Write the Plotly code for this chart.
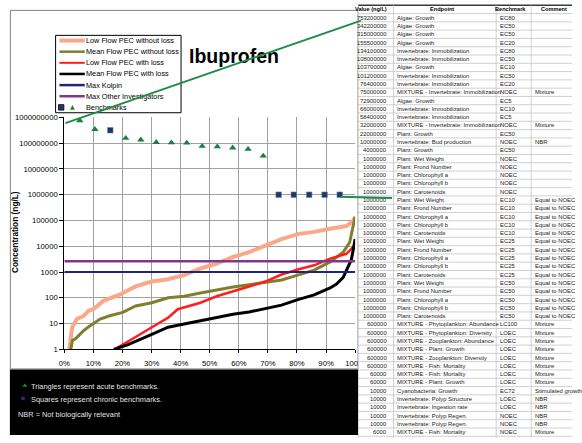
import plotly.graph_objects as go

W, H = 582, 443
FONT = "'Liberation Sans', Arial, sans-serif"

# ---------------- data ----------------
series_names = ["Low Flow PEC without loss", "Mean Flow PEC without loss",
                "Low Flow PEC with loss", "Mean Flow PEC with loss",
                "Max Kolpin", "Max Other Investigators"]
series_colors = ["#F9A98A", "#7F7F2E", "#FF1E1E", "#000000", "#23237A", "#80388C"]
series_widths = [4, 3, 2.5, 3, 2, 2.5]

low_flow_nl_x = [1.7, 2.0, 2.7, 4.3, 6.7, 8.4, 10.0, 13.4, 16.7, 19.0, 24.5, 30.1, 35.7, 41.2,
                 46.8, 52.4, 58.0, 63.5, 69.1, 74.7, 80.3, 85.9, 91.4, 97.0, 99.2, 100.0]
low_flow_nl_y = [1, 2.3, 7.2, 15, 20, 32, 36, 76, 100, 132, 275, 427, 525, 760,
                 1370, 2130, 3820, 5900, 10500, 19000, 29500, 36000, 48000, 61000, 94000, 138000]

mean_flow_nl_x = [2.2, 2.8, 3.9, 6.7, 8.9, 12.3, 15.6, 20.1, 24.5, 30.1, 35.7, 41.2, 46.8,
                  52.4, 58.0, 63.5, 69.1, 74.7, 80.3, 85.9, 91.4, 95.9, 98.1, 99.2, 100.0]
mean_flow_nl_y = [1, 2.2, 2.6, 5.4, 8.3, 15, 20, 27, 48, 64, 100, 115, 154,
                  205, 260, 318, 390, 490, 760, 1180, 2460, 5900, 14000, 45000, 138000]

low_flow_wl_x = [17.3, 20.1, 24.5, 30.1, 35.7, 39.0, 46.8, 52.4, 58.0, 63.5, 69.1, 74.7,
                 80.3, 85.9, 91.4, 97.0, 99.2, 99.8]
low_flow_wl_y = [1, 1.5, 3.0, 7.2, 17, 36, 64, 115, 178, 275, 427, 800,
                 1250, 1820, 3300, 5100, 8700, 10500]

mean_flow_wl_x = [17.0, 21.7, 27.9, 35.7, 41.2, 46.8, 52.4, 58.0, 63.5, 69.1, 74.7, 80.3,
                  85.9, 91.4, 93.6, 95.9, 97.5, 98.7, 99.4, 100.0]
mean_flow_wl_y = [1, 1.5, 3, 7.2, 9.6, 13, 17, 23, 28, 39, 52, 85,
                  130, 240, 340, 620, 1620, 3000, 7900, 19000]

kolpin_x = [0, 100]
kolpin_y = [1000, 1000]
other_x = [0, 100]
other_y = [2600, 2600]

bench_pct = [5.3, 10.5, 15.8, 21.1, 26.3, 31.6, 36.8, 42.1, 47.4, 52.6, 57.9, 63.2,
             68.4, 73.7, 78.9, 84.2, 89.5, 94.7]
bench_val = [753200000, 342200000, 315000000, 155500000, 134100000, 108000000, 103700000,
             101200000, 76400000, 72900000, 66000000, 58400000, 32000000,
             1000000, 1000000, 1000000, 1000000, 1000000]
bench_kind = ["acute", "acute", "chronic", "acute", "acute", "acute", "acute", "acute",
              "acute", "acute", "acute", "acute", "acute",
              "chronic", "chronic", "chronic", "chronic", "chronic"]

x_ticks = [0, 10, 20, 30, 40, 50, 60, 70, 80, 90, 100]

table_header = ["Value (ng/L)", "Endpoint", "Benchmark", "Comment"]
table_values = [753200000, 342200000, 315000000, 155500000, 134100000, 108000000, 103700000,
                101200000, 76400000, 75000000, 72900000, 66000000, 58400000, 32000000,
                22000000, 10000000, 4000000,
                1000000, 1000000, 1000000, 1000000, 1000000,
                1000000, 1000000, 1000000, 1000000, 1000000,
                1000000, 1000000, 1000000, 1000000, 1000000,
                1000000, 1000000, 1000000, 1000000, 1000000,
                600000, 600000, 600000, 600000, 600000, 600000,
                60000, 60000,
                10000, 10000, 10000, 10000, 10000, 6000]
table_endpoints = ["Algae: Growth", "Algae: Growth", "Algae: Growth", "Algae: Growth",
                   "Invertebrate: Immobilization", "Invertebrate: Immobilization", "Algae: Growth",
                   "Invertebrate: Immobilization", "Invertebrate: Immobilization",
                   "MIXTURE - Invertebrate: Immobilization", "Algae: Growth",
                   "Invertebrate: Immobilization", "Invertebrate: Immobilization",
                   "MIXTURE - Invertebrate: Immobilization", "Plant: Growth",
                   "Invertebrate: Bud production", "Plant: Growth",
                   "Plant: Wet Weight", "Plant: Frond Number", "Plant: Chlorophyll a",
                   "Plant: Chlorophyll b", "Plant: Carotenoids",
                   "Plant: Wet Weight", "Plant: Frond Number", "Plant: Chlorophyll a",
                   "Plant: Chlorophyll b", "Plant: Carotenoids",
                   "Plant: Wet Weight", "Plant: Frond Number", "Plant: Chlorophyll a",
                   "Plant: Chlorophyll b", "Plant: Carotenoids",
                   "Plant: Wet Weight", "Plant: Frond Number", "Plant: Chlorophyll a",
                   "Plant: Chlorophyll b", "Plant: Carotenoids",
                   "MIXTURE - Phytoplankton: Abundance", "MIXTURE - Phytoplankton: Diversity",
                   "MIXTURE - Zooplankton: Abundance", "MIXTURE - Plant: Growth",
                   "MIXTURE - Zooplankton: Diversity", "MIXTURE - Fish: Mortality",
                   "MIXTURE - Fish: Mortality", "MIXTURE - Plant: Growth",
                   "Cyanobacteria: Growth", "Invertebrate: Polyp Structure",
                   "Invertebrate: Ingestion rate", "Invertebrate: Polyp Regen.",
                   "Invertebrate: Polyp Regen.", "MIXTURE - Fish: Mortality"]
table_benchmarks = ["EC80", "EC50", "EC50", "EC20", "EC80", "EC50", "EC10", "EC50", "EC20",
                    "NOEC", "EC5", "EC10", "EC5", "NOEC", "EC50", "NOEC", "EC50",
                    "NOEC", "NOEC", "NOEC", "NOEC", "NOEC",
                    "EC10", "EC10", "EC10", "EC10", "EC10",
                    "EC25", "EC25", "EC25", "EC25", "EC25",
                    "EC50", "EC50", "EC50", "EC50", "EC50",
                    "LC100", "LOEC", "LOEC", "LOEC", "LOEC", "LOEC", "LOEC", "LOEC",
                    "EC72", "LOEC", "LOEC", "NOEC", "NOEC", "NOEC"]
table_comments = ["", "", "", "", "", "", "", "", "", "Mixture", "", "", "", "Mixture", "",
                  "NBR", "", "", "", "", "", "",
                  "Equal to NOEC", "Equal to NOEC", "Equal to NOEC", "Equal to NOEC", "Equal to NOEC",
                  "Equal to NOEC", "Equal to NOEC", "Equal to NOEC", "Equal to NOEC", "Equal to NOEC",
                  "Equal to NOEC", "Equal to NOEC", "Equal to NOEC", "Equal to NOEC", "Equal to NOEC",
                  "Mixture", "Mixture", "Mixture", "Mixture", "Mixture", "Mixture", "Mixture", "Mixture",
                  "Stimulated growth", "NBR", "NBR", "NBR", "NBR", "Mixture"]

notes = ["Triangles represent acute benchmarks.", "Squares represent chronic benchmarks.",
         "NBR = Not biologically relevant"]

# ---------------- helpers (layout only) ----------------
def px(x):
    return x / W

def py(y):
    return 1 - y / H

tri_color = "#1B7F3E"
sq_color = "#1F3868"
link_color = "#1E8C48"

fig = go.Figure()

curves = [(low_flow_nl_x, low_flow_nl_y), (mean_flow_nl_x, mean_flow_nl_y),
          (low_flow_wl_x, low_flow_wl_y), (mean_flow_wl_x, mean_flow_wl_y),
          (kolpin_x, kolpin_y), (other_x, other_y)]
for (xs, ys), name, col, lw in zip(curves, series_names, series_colors, series_widths):
    fig.add_trace(go.Scatter(x=xs, y=ys, mode="lines", name=name,
                             line=dict(color=col, width=lw), showlegend=False,
                             hoverinfo="skip"))

acute = [(x, v) for x, v, k in zip(bench_pct, bench_val, bench_kind) if k == "acute"]
chronic = [(x, v) for x, v, k in zip(bench_pct, bench_val, bench_kind) if k == "chronic"]
fig.add_trace(go.Scatter(x=[a[0] for a in acute], y=[a[1] for a in acute], mode="markers",
                         name="Benchmarks", showlegend=False,
                         marker=dict(symbol="triangle-up", size=6.5, color=tri_color,
                                     line=dict(width=0))))
fig.add_trace(go.Scatter(x=[c[0] for c in chronic], y=[c[1] for c in chronic], mode="markers",
                         name="Benchmarks", showlegend=False,
                         marker=dict(symbol="square", size=5.5, color=sq_color,
                                     line=dict(width=0.6, color="#6A7FA8"))))
# empty trace to create the table's coordinate system
fig.add_trace(go.Scatter(x=[], y=[], xaxis="x2", yaxis="y2", showlegend=False))

# table geometry (row index -> pixel: 5.54 + 8.46 * i)
ROW0, ROWH = 5.54, 8.46
y2_range = [(H - ROW0) / ROWH, -ROW0 / ROWH]

shapes = []
# chart frame
shapes.append(dict(type="rect", xref="paper", yref="paper", layer="below",
                   x0=px(4.5), x1=px(362), y0=py(372.5), y1=py(6.5),
                   line=dict(color="#808080", width=1), fillcolor="white"))
# black notes panel
shapes.append(dict(type="rect", xref="paper", yref="paper", layer="above",
                   x0=px(4), x1=px(362), y0=py(440), y1=py(373),
                   line=dict(width=0), fillcolor="black"))
# legend box
LEG_X0, LEG_X1, LEG_Y0, LEG_Y1 = 51, 180, 32, 111
shapes.append(dict(type="rect", xref="paper", yref="paper", layer="above",
                   x0=px(LEG_X0), x1=px(LEG_X1), y0=py(LEG_Y1), y1=py(LEG_Y0),
                   line=dict(color="black", width=1), fillcolor="white"))
leg_rows = [37.3 + 11.37 * k for k in range(7)]
leg_lw = [4, 2.5, 2, 2.5, 2.5, 2.5]
for yy, col, lw in zip(leg_rows, series_colors, leg_lw):
    shapes.append(dict(type="line", xref="paper", yref="paper", layer="above",
                       x0=px(55), x1=px(81), y0=py(yy), y1=py(yy),
                       line=dict(color=col, width=lw)))
by = leg_rows[6]
shapes.append(dict(type="rect", xref="paper", yref="paper", layer="above",
                   x0=px(54), x1=px(59.5), y0=py(by + 2.8), y1=py(by - 2.8),
                   line=dict(color="black", width=0.8), fillcolor=sq_color))
shapes.append(dict(type="path", xref="paper", yref="paper", layer="above",
                   path=f"M {px(65.8)},{py(by + 2.3)} L {px(70.8)},{py(by + 2.3)} L {px(68.3)},{py(by - 2.5)} Z",
                   line=dict(width=0), fillcolor=tri_color))
# note glyphs
shapes.append(dict(type="path", xref="paper", yref="paper", layer="above",
                   path=f"M {px(16.7)},{py(390.8)} L {px(22)},{py(390.8)} L {px(19.35)},{py(387.3)} Z",
                   line=dict(width=0), fillcolor="#1E8A40"))
shapes.append(dict(type="rect", xref="paper", yref="paper", layer="above",
                   x0=px(15.7), x1=px(19.2), y0=py(404.3), y1=py(400.7),
                   line=dict(width=0), fillcolor="#2B2B7A"))
# table background
shapes.append(dict(type="rect", xref="paper", yref="paper", layer="above",
                   x0=px(362), x1=1, y0=0, y1=1, line=dict(width=0), fillcolor="white"))
n_rows = len(table_values)
col_edges = [0, 36.5, 142, 178]
for i in range(-1, n_rows + 1):
    shapes.append(dict(type="line", xref="x2", yref="y2", layer="above",
                       x0=0, x1=220, y0=i + 0.5, y1=i + 0.5,
                       line=dict(color="#3A3A3A" if i == -1 else "#C4C4C4",
                                 width=1.5 if i == -1 else 0.8)))
for ce in col_edges:
    shapes.append(dict(type="line", xref="x2", yref="y2", layer="above",
                       x0=ce, x1=ce, y0=-0.5, y1=y2_range[0],
                       line=dict(color="#A8A8A8" if ce == 0 else "#C4C4C4", width=0.8)))

ann = []
ann.append(dict(text="Ibuprofen", xref="paper", yref="paper", x=px(234.7), y=py(53),
                xanchor="center", yanchor="middle", showarrow=False,
                font=dict(family=FONT, size=19.5, color="black", weight="bold")))
ann.append(dict(text="Concentration (ng/L)", xref="paper", yref="paper", x=px(10), y=py(233),
                xanchor="center", yanchor="middle", showarrow=False, textangle=-90,
                font=dict(family=FONT, size=8.3, color="black", weight="bold")))
for yy, name in zip(leg_rows, series_names + ["Benchmarks"]):
    ann.append(dict(text=name, xref="paper", yref="paper", x=px(80.5), y=py(yy),
                    xanchor="left", yanchor="middle", showarrow=False,
                    font=dict(family=FONT, size=7.3, color="black")))
for (xx, yy), t in zip([(23.5, 390.5), (23.5, 403.5), (10.5, 419.3)], notes):
    ann.append(dict(text=t, xref="paper", yref="paper", x=px(xx), y=py(yy),
                    xanchor="left", yanchor="middle", showarrow=False,
                    font=dict(family=FONT, size=7.4, color="#E4E4E4")))

hdr_x = [13.5, 86.7, 156.3, 201]
for hx, t in zip(hdr_x, table_header):
    ann.append(dict(text=t, xref="x2", yref="y2", x=hx, y=0, xanchor="center",
                    yanchor="middle", showarrow=False,
                    font=dict(family=FONT, size=5.6, color="black", weight="bold")))
body_font = dict(family=FONT, size=5.9, color="#1A1A1A")
for i, (v, e, b, c) in enumerate(zip(table_values, table_endpoints, table_benchmarks,
                                      table_comments), start=1):
    ann.append(dict(text=str(v), xref="x2", yref="y2", x=31.5, y=i, xanchor="right",
                    yanchor="middle", showarrow=False, font=body_font))
    ann.append(dict(text=e, xref="x2", yref="y2", x=37.8, y=i, xanchor="left",
                    yanchor="middle", showarrow=False, font=body_font))
    ann.append(dict(text=b, xref="x2", yref="y2", x=143.6, y=i, xanchor="left",
                    yanchor="middle", showarrow=False, font=body_font))
    if c:
        ann.append(dict(text=c, xref="x2", yref="y2", x=179.4, y=i, xanchor="left",
                        yanchor="middle", showarrow=False, font=body_font))

# connector lines from the benchmarks to the table
for (hx, hy, tx, ty) in [(365, 17, 68, 120), (397, 198, 344, 196.7)]:
    ann.append(dict(text="", xref="paper", yref="paper", x=px(hx), y=py(hy),
                    ax=tx - hx, ay=ty - hy, showarrow=True, arrowhead=0,
                    arrowwidth=2, arrowcolor=link_color, standoff=0, startstandoff=0,
                    font=dict(size=1)))

TICKFONT = dict(size=7.7, family=FONT, color="black")
fig.update_layout(
    width=W, height=H, margin=dict(l=0, r=0, t=0, b=0),
    paper_bgcolor="white", plot_bgcolor="white", showlegend=False,
    font=dict(family=FONT, color="black"),
    xaxis=dict(domain=[px(60), px(359)], range=[0, 100], tickvals=x_ticks,
               ticktext=[f"{t}%" for t in x_ticks], showgrid=True, gridcolor="#A0A0A0",
               gridwidth=1, showline=True, linecolor="black", linewidth=1.2, ticks="outside",
               ticklen=3, tickcolor="black", tickfont=TICKFONT, ticklabelstandoff=3,
               zeroline=False, fixedrange=True),
    yaxis=dict(domain=[py(352.5), py(115.7)], type="log", range=[0, 9], dtick=1,
               tickformat="d", showgrid=True, gridcolor="#A0A0A0", gridwidth=1,
               showline=True, linecolor="black", linewidth=1.2, ticks="outside", ticklen=4,
               tickcolor="black", tickfont=TICKFONT, zeroline=False,
               fixedrange=True),
    xaxis2=dict(domain=[px(362), 1], range=[0, 220], visible=False, anchor="y2",
                fixedrange=True),
    yaxis2=dict(domain=[0, 1], range=y2_range, visible=False, anchor="x2", fixedrange=True),
    shapes=shapes, annotations=ann,
)

fig.write_html("out.html", config={"displayModeBar": False},
               post_script="document.body.style.margin='0px';document.body.style.padding='0px';")
